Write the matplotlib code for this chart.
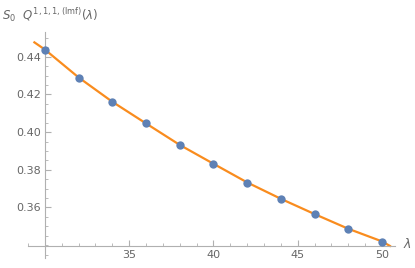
import matplotlib
matplotlib.use("Agg")
import matplotlib.pyplot as plt
from matplotlib.ticker import MultipleLocator

# data
lam = [30, 32, 34, 36, 38, 40, 42, 44, 46, 48, 50]
s0q = [0.4436, 0.4289, 0.4161, 0.4047, 0.3930, 0.3831, 0.3732, 0.3645, 0.3564, 0.3486, 0.3419]

# fitted curve (orange), slightly longer than the dots
curve_x = [29.38, 30, 32, 34, 36, 38, 40, 42, 44, 46, 48, 50, 50.47]
curve_y = [0.4476, 0.4438, 0.4290, 0.4161, 0.4046, 0.3932, 0.3832, 0.3733, 0.3646, 0.3565, 0.3487, 0.3420, 0.3396]

xticks = [35, 40, 45, 50]
yticks = [0.36, 0.38, 0.40, 0.42, 0.44]

axis_col = "#b0b0b0"
text_col = "#666666"

fig = plt.figure(figsize=(4.15, 2.68), dpi=100)
ax = fig.add_axes([28 / 415, 10 / 268, 367 / 415, 226 / 268])

ax.plot(curve_x, curve_y, color="#F98C1E", lw=1.6, zorder=2)
ax.plot(lam, s0q, "o", color="#5E81B5", ms=6, mec="none", zorder=3)

ax.set_xlim(29.0, 50.77)
ax.set_ylim(0.3332, 0.4531)

for s in ["top", "right"]:
    ax.spines[s].set_visible(False)
ax.spines["left"].set_position(("data", 30))
ax.spines["bottom"].set_position(("data", 0.3398))
for s in ["left", "bottom"]:
    ax.spines[s].set_color(axis_col)
    ax.spines[s].set_linewidth(0.8)

ax.set_xticks(xticks)
ax.set_yticks(yticks)
ax.set_yticklabels([f"{v:.2f}" for v in yticks])
ax.xaxis.set_minor_locator(MultipleLocator(1))
ax.yaxis.set_minor_locator(MultipleLocator(0.005))
ax.tick_params(which="major", direction="in", length=4, width=0.8, color=axis_col,
               labelcolor=text_col, labelsize=8, pad=3)
ax.tick_params(which="minor", direction="in", length=2.2, width=0.6, color=axis_col)

fig.text(2 / 415, 1 - 15 / 268, r"$S_0\ \ Q^{1,1,1,(\mathrm{lmf})}(\lambda)$",
         color=text_col, fontsize=8.5, va="center", ha="left")
fig.text(403 / 415, 1 - 244 / 268, r"$\lambda$", color=text_col, fontsize=9,
         va="center", ha="left")

fig.savefig("out.png", dpi=100)
